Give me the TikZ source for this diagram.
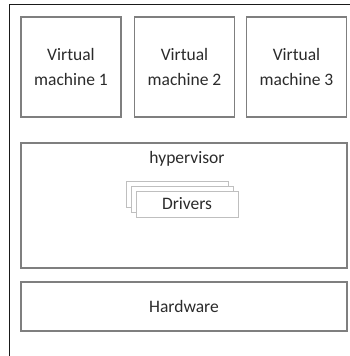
\documentclass[tikz,border=0pt]{standalone}
\usepackage{fontspec}
\setmainfont{Carlito}
\usetikzlibrary{positioning}
\definecolor{frameblk}{HTML}{1A1A1A}
\definecolor{boxgray}{HTML}{7F7F7F}
\definecolor{drvgray}{HTML}{BFBFBF}
\definecolor{txtgray}{HTML}{2B2B2B}

\tikzset{
  layerbox/.style={draw=boxgray, line width=1.2pt, fill=white, inner sep=0pt,
    font=\fontsize{17.5}{25}\selectfont, text=txtgray, align=center},
  drvbox/.style={draw=drvgray, line width=0.7pt, fill=white, inner sep=0pt,
    minimum width=102pt, minimum height=26pt, font=\fontsize{17.5}{25}\selectfont, text=txtgray}
}

\begin{document}
\begin{tikzpicture}[x=1pt, y=-1pt]

% Page size (pixel coordinates, y grows downward)
\useasboundingbox (0,0) rectangle (350,356);
\clip (0,0) rectangle (350,356);

% Outer frame (runs off the right and bottom edges)
\draw[frameblk, line width=0.9pt] (9,4) rectangle (370,380);

% Virtual machines
\node[layerbox, minimum width=100pt, minimum height=100pt] (vmone) at (71,67)
  {Virtual\\machine 1};
\node[layerbox, minimum width=100pt, minimum height=100pt] (vmtwo) at (184.5,67)
  {Virtual\\machine 2};
\node[layerbox, minimum width=100pt, minimum height=100pt] (vmthree) at (296.5,67)
  {Virtual\\machine 3};

% Hypervisor layer
\node[layerbox, minimum width=326pt, minimum height=125pt] (hyper) at (184,205.5) {};
\node[font=\fontsize{17.5}{25}\selectfont, text=txtgray, inner sep=0pt] (hyperlabel) at (187,159) {hypervisor};

% Stacked driver cards
\node[drvbox] (drvback) at (177,194) {};
\node[drvbox] (drvmid) at (182,199) {};
\node[drvbox] (drvfront) at (187,204) {Drivers};

% Hardware layer
\node[layerbox, minimum width=326pt, minimum height=49pt] (hw) at (184,306.5) {Hardware};

\end{tikzpicture}
\end{document}
